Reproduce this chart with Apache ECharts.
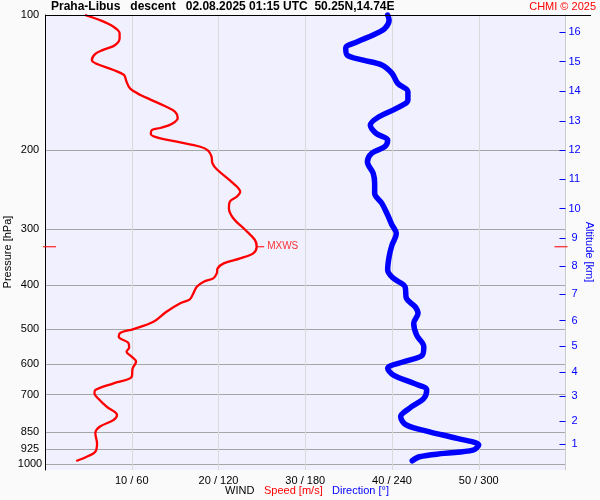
<!DOCTYPE html>
<html><head><meta charset="utf-8">
<script src="https://cdn.jsdelivr.net/npm/echarts@6/dist/echarts.min.js"></script>
<style>html,body{margin:0;padding:0;background:#fafafa}#c{width:600px;height:500px}</style>
</head><body><div id="c"></div>
<script>
// Wind speed profile [m/s] vs pressure [hPa]
const speedPressure = [100,102.6,106.2,109.8,112.7,116.6,119.6,122.1,126.0,128.6,132.6,136.0,140.8,145.7,150.7,154.1,159.5,164.4,169.6,174.9,178.5,180.4,184.1,187.3,191.5,196.5,200.5,206.8,213.9,220.6,237.1,247.5,253.9,260.6,269.5,283.6,301.2,317.0,328.1,339.5,348.3,357.3,366.6,376.1,385.9,392.6,402.8,416.7,429.7,438.6,458.0,482.1,500.5,510.2,520.8,537.0,549.9,562.3,576.8,591.8,612.2,639.1,661.1,684.2,695.8,720.2,745.4,777.8,798.0,825.9,854.3,899.3,939.0,963.1,984.7];
const speedValues = [4.6,6.3,7.9,8.6,8.6,8.1,6.7,5.8,5.4,6.0,7.9,9.1,9.4,9.8,11.0,12.1,13.8,15.0,15.3,14.6,13.3,12.3,12.2,12.9,15.2,17.9,18.8,19.2,19.3,19.8,21.7,22.5,22.1,21.3,21.2,21.7,23.1,24.2,24.4,24.0,22.5,20.6,19.9,19.8,19.4,18.3,17.5,17.1,16.7,15.6,14.0,12.5,10.2,8.7,8.5,9.6,9.7,9.4,10.0,10.5,10.1,10.0,7.9,5.8,5.7,6.3,7.1,8.3,7.9,6.3,5.8,6.0,5.8,4.8,3.6];
// Wind direction profile [deg] vs pressure [hPa]
const dirPressure = [100,102.6,107.1,110.8,114.7,118.6,122.8,126.0,129.2,134.9,142.0,148.2,154.7,161.4,168.5,175.8,183.5,189.9,196.5,203.2,212.2,225.3,237.1,249.5,262.7,278.9,293.6,306.4,325.3,345.4,369.8,385.9,402.8,427.6,446.4,461.7,486.0,516.0,548.1,571.8,591.8,612.2,633.7,661.1,684.2,714.0,751.6,784.6,818.8,847.6,876.8,907.3,930.8,946.7,963.1,983.3];
const dirValues = [237,238,235,227,216,208,209,220,233,240,244,251,251,243,231,225,229,237,235,226,223,227,228,228,233,237,240,243,240,238,237,241,249,250,256,258,255,257,262,261,248,237,241,255,264,262,252,246,250,266,285,300,296,276,259,254];
// Axis ticks
const pressureTicks = [100,200,300,400,500,600,700,850,925,1000];
const speedTicks = [10,20,30,40,50];
const altitudeKm = [1,2,3,4,5,6,7,8,9,10,11,12,13,14,15,16];
const altitudePressure = [904,803,706,623,547,479,418,362,314,270,232,200,172,147.5,127,109.3];

const FONT = '"Liberation Sans", Arial, sans-serif';
const RED = '#ff0000', BLUE = '#0000ff';

let mi = 0;
speedValues.forEach((v,i)=>{ if (v > speedValues[mi]) mi = i; });
const mx = [speedValues[mi], speedPressure[mi]];

const chart = echarts.init(document.getElementById('c'), null, {renderer:'canvas'});
const yBase = {type:'log', logBase:10, min:100, max:1031, inverse:true, gridIndex:0};
chart.setOption({
  backgroundColor:'#fafafa',
  animation:false,
  textStyle:{fontFamily:FONT},
  grid:{left:45, right:34.5, top:15, bottom:30, show:true, backgroundColor:'#f0f0ff', borderWidth:0},
  xAxis:[
    {type:'value', min:0, max:60, interval:10,
     axisLine:{show:false}, axisTick:{show:false},
     splitLine:{show:true, lineStyle:{color:'#d9d9d9', width:1}},
     axisLabel:{customValues:speedTicks, margin:5, color:'#000', fontSize:11, fontFamily:FONT,
       formatter:v=> v + ' / ' + (v*6)}},
    {type:'value', min:0, max:360, show:false}
  ],
  yAxis:[
    Object.assign({}, yBase, {position:'left',
      axisLine:{show:true, onZero:false, lineStyle:{color:'#000', width:1}},
      axisTick:{show:false, customValues:pressureTicks},
      axisLabel:{customValues:pressureTicks, align:'center', margin:15, color:'#000', fontSize:11, fontFamily:FONT,
        formatter:v=> String(Math.round(v))},
      splitLine:{show:true, lineStyle:{color:'#a6a6a6', width:1}}}),
    Object.assign({}, yBase, {position:'right',
      axisLine:{show:true, onZero:false, lineStyle:{color:'#cccccc', width:1}},
      axisTick:{show:true, inside:true, length:6, customValues:altitudePressure, lineStyle:{color:BLUE, width:1}},
      axisLabel:{customValues:altitudePressure, align:'center', margin:9, color:BLUE, fontSize:11, fontFamily:FONT,
        formatter:v=>{ const i = altitudePressure.findIndex(p=>Math.abs(p-v)<1e-6); return i>=0 ? String(altitudeKm[i]) : ''; }},
      splitLine:{show:false}})
  ],
  series:[
    {type:'line', name:'Direction', xAxisIndex:1, yAxisIndex:0, showSymbol:false, clip:false, z:3,
     smooth:0.35,
     lineStyle:{color:BLUE, width:5.5, cap:'round', join:'round'},
     data:dirValues.map((d,i)=>[d, dirPressure[i]])},
    {type:'line', name:'Speed', xAxisIndex:0, yAxisIndex:0, showSymbol:false, clip:false, z:4,
     smooth:0.35,
     lineStyle:{color:RED, width:2.3, join:'round'},
     data:speedValues.map((s,i)=>[s, speedPressure[i]])},
    {type:'scatter', xAxisIndex:0, yAxisIndex:0, clip:false, z:5, silent:true,
     symbol:'rect', symbolSize:[7,1.3], symbolOffset:[4,0], itemStyle:{color:RED},
     label:{show:true, position:'right', distance:3, formatter:'MXWS', color:RED, fontSize:10, fontFamily:FONT},
     data:[mx]},
    {type:'scatter', xAxisIndex:0, yAxisIndex:0, clip:false, z:5, silent:true,
     symbol:'rect', symbolSize:[13,1.3], symbolOffset:[4.5,0], itemStyle:{color:RED},
     data:[[0, mx[1]]]},
    {type:'scatter', xAxisIndex:0, yAxisIndex:0, clip:false, z:5, silent:true,
     symbol:'rect', symbolSize:[13,1.3], symbolOffset:[-4.5,0], itemStyle:{color:RED},
     data:[[60, mx[1]]]}
  ],
  graphic:[
    {type:'line', z:10, shape:{x1:45, y1:15.5, x2:591, y2:15.5}, style:{stroke:'#000', lineWidth:1}},
    {type:'text', z:10, x:51, y:7, style:{text:'Praha-Libus   descent   02.08.2025 01:15 UTC  50.25N,14.74E', font:'bold 12px '+FONT, fill:'#000', verticalAlign:'middle', align:'left'}},
    {type:'text', z:10, x:596, y:7, style:{text:'CHMI © 2025', font:'11px '+FONT, fill:RED, verticalAlign:'middle', align:'right'}},
    {type:'text', z:10, x:8, y:252, rotation:Math.PI/2, style:{text:'Pressure [hPa]', font:'11px '+FONT, fill:'#000', verticalAlign:'middle', align:'center'}},
    {type:'text', z:10, x:589.5, y:252, rotation:-Math.PI/2, style:{text:'Altitude [km]', font:'11px '+FONT, fill:BLUE, verticalAlign:'middle', align:'center'}},
    {type:'text', z:10, x:225, y:491, style:{text:'WIND', font:'11px '+FONT, fill:'#000', verticalAlign:'middle', align:'left'}},
    {type:'text', z:10, x:264, y:491, style:{text:'Speed [m/s]', font:'11px '+FONT, fill:RED, verticalAlign:'middle', align:'left'}},
    {type:'text', z:10, x:332, y:491, style:{text:'Direction [°]', font:'11px '+FONT, fill:BLUE, verticalAlign:'middle', align:'left'}}
  ]
});
</script></body></html>
